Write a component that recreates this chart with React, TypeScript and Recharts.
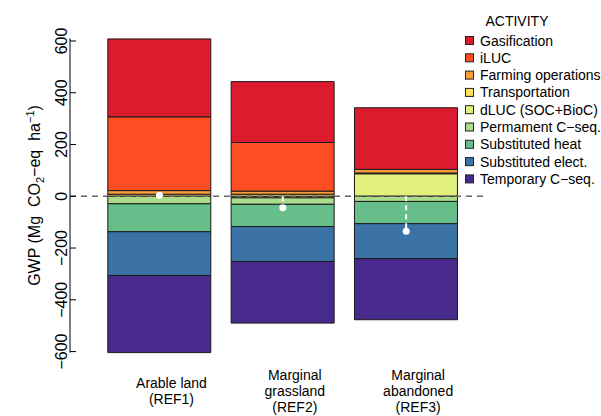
import { ComposedChart, Bar, Line, XAxis, YAxis, ReferenceLine, Legend, Label } from 'recharts';

// categories and their (multi-line) tick labels
const categories = ['REF1', 'REF2', 'REF3'];
const categoryLabels = [
  ['Arable land', '(REF1)'],
  ['Marginal', 'grassland', '(REF2)'],
  ['Marginal', 'abandoned', '(REF3)'],
];

// GWP per activity, Mg CO2-eq / ha
const gasification = [301, 235, 238];
const iluc = [285, 188, 0];
const farming = [14, 12, 14];
const transport = [8, 8, 3];
const dluc = [0, -6, 87];
const permanent = [-29, -25, -20];
const heat = [-108, -86, -86];
const elect = [-169, -135, -135];
const temporary = [-298, -238, -236];
const net = [4, -44, -135];

const yTicks = [-600, -400, -200, 0, 200, 400, 600];

// legend order (top to bottom)
const series = [
  { key: 'gasification', name: 'Gasification', color: '#dc1b2f', values: gasification },
  { key: 'iluc', name: 'iLUC', color: '#fc4e22', values: iluc },
  { key: 'farming', name: 'Farming operations', color: '#fb9d3b', values: farming },
  { key: 'transport', name: 'Transportation', color: '#fde35d', values: transport },
  { key: 'dluc', name: 'dLUC (SOC+BioC)', color: '#e1f17c', values: dluc },
  { key: 'permanent', name: 'Permament C\u2212seq.', color: '#abdc8b', values: permanent },
  { key: 'heat', name: 'Substituted heat', color: '#66bf8a', values: heat },
  { key: 'elect', name: 'Substituted elect.', color: '#3c73a6', values: elect },
  { key: 'temporary', name: 'Temporary C\u2212seq.', color: '#472a8b', values: temporary },
];

// stacking order, nearest to zero first
const stackOrder = ['dluc', 'transport', 'farming', 'iluc', 'gasification', 'permanent', 'heat', 'elect', 'temporary'];

const data = categories.map((name, i) => {
  const row: Record<string, any> = { name, net: net[i] };
  series.forEach((s) => {
    row[s.key] = s.values[i];
  });
  return row;
});

const FONT = '"Liberation Sans", Arial, Helvetica, sans-serif';

const fmt = (v: number) => (v < 0 ? `\u2212${Math.abs(v)}` : `${v}`);

function YTick({ x, y, payload }: any) {
  return (
    <g>
      <line x1={x} x2={x + 6} y1={y} y2={y} stroke="#000" strokeWidth={1} />
      <text
        x={x - 3}
        y={y}
        transform={`rotate(-90, ${x - 3}, ${y})`}
        textAnchor="middle"
        fontFamily={FONT}
        fontSize={16}
        fill="#000"
      >
        {fmt(payload.value)}
      </text>
    </g>
  );
}

function XTick({ x, y, payload }: any) {
  const idx = categories.indexOf(payload.value);
  const lines = categoryLabels[idx] || [payload.value];
  const top = y + 38.5 - ((lines.length - 1) * 16) / 2;
  return (
    <g>
      {lines.map((t, i) => (
        <text
          key={t}
          x={x + 12}
          y={top + i * 16 + 5}
          textAnchor="middle"
          fontFamily={FONT}
          fontSize={14}
          fill="#000"
        >
          {t}
        </text>
      ))}
    </g>
  );
}

function YTitle(props: any) {
  const vb = props.viewBox || {};
  const cy = (vb.y ?? 38) + (vb.height ?? 314) / 2;
  const cx = 40;
  return (
    <text
      x={cx}
      y={cy}
      transform={`rotate(-90, ${cx}, ${cy})`}
      textAnchor="middle"
      fontFamily={FONT}
      fontSize={16}
      fill="#000"
      style={{ whiteSpace: 'pre' }}
    >
      <tspan>GWP (Mg  CO</tspan>
      <tspan dy={4} fontSize={11}>2</tspan>
      <tspan dy={-4}>{'\u2212eq  ha'}</tspan>
      <tspan dy={-6} fontSize={11}>{'\u22121'}</tspan>
      <tspan dy={6}>)</tspan>
    </text>
  );
}

function LegendContent() {
  return (
    <svg width={146} height={200} style={{ display: 'block' }}>
      <text x={62} y={26} textAnchor="middle" fontFamily={FONT} fontSize={14} fill="#000">
        ACTIVITY
      </text>
      {series.map((s, i) => {
        const cy = 40.5 + i * 17.3;
        return (
          <g key={s.key}>
            <rect x={10.5} y={cy - 4} width={8} height={8} fill={s.color} stroke="#222" strokeWidth={1} />
            <text x={25} y={cy + 5} fontFamily={FONT} fontSize={14} fill="#000">
              {s.name}
            </text>
          </g>
        );
      })}
    </svg>
  );
}

export default function App() {
  const byKey = Object.fromEntries(series.map((s) => [s.key, s]));
  return (
    <div style={{ position: 'absolute', left: 0, top: 0, width: 601, height: 416, background: '#fff' }}>
      <ComposedChart
        width={601}
        height={416}
        data={data}
        stackOffset="sign"
        margin={{ top: 38.4, right: 114, bottom: 3.4, left: 0 }}
      >
        <XAxis
          dataKey="name"
          type="category"
          axisLine={false}
          tickLine={false}
          tickSize={0}
          tickMargin={0}
          height={60}
          padding={{ left: 27.8, right: 19.2 }}
          tick={<XTick />}
          interval={0}
        />
        <YAxis
          type="number"
          domain={[-600, 610]}
          ticks={yTicks}
          width={70}
          axisLine={{ stroke: '#000', strokeWidth: 1 }}
          tickLine={false}
          tickSize={0}
          tickMargin={0}
          tick={<YTick />}
          interval={0}
        >
          <Label content={<YTitle />} />
        </YAxis>
        <Legend
          layout="horizontal"
          verticalAlign="middle"
          align="center"
          wrapperStyle={{ left: 455, top: 0, width: 146, height: 200 }}
          content={<LegendContent />}
        />
        {stackOrder.map((k) => (
          <Bar
            key={k}
            dataKey={k}
            name={byKey[k].name}
            stackId="gwp"
            fill={byKey[k].color}
            stroke="#1a1a1a"
            strokeWidth={1}
            barSize={103}
            isAnimationActive={false}
          />
        ))}
        <ReferenceLine y={0} stroke="#666" strokeWidth={1.5} strokeDasharray="6 5" />
        {categories.map((c, i) => (
          <ReferenceLine
            key={c}
            segment={[
              { x: c, y: 0 },
              { x: c, y: net[i] },
            ]}
            stroke="#fff"
            strokeWidth={2}
            strokeDasharray="5 4"
          />
        ))}
        <Line
          dataKey="net"
          stroke="none"
          legendType="none"
          isAnimationActive={false}
          dot={{ r: 3.5, fill: '#fff', stroke: 'none' }}
        />
      </ComposedChart>
    </div>
  );
}
